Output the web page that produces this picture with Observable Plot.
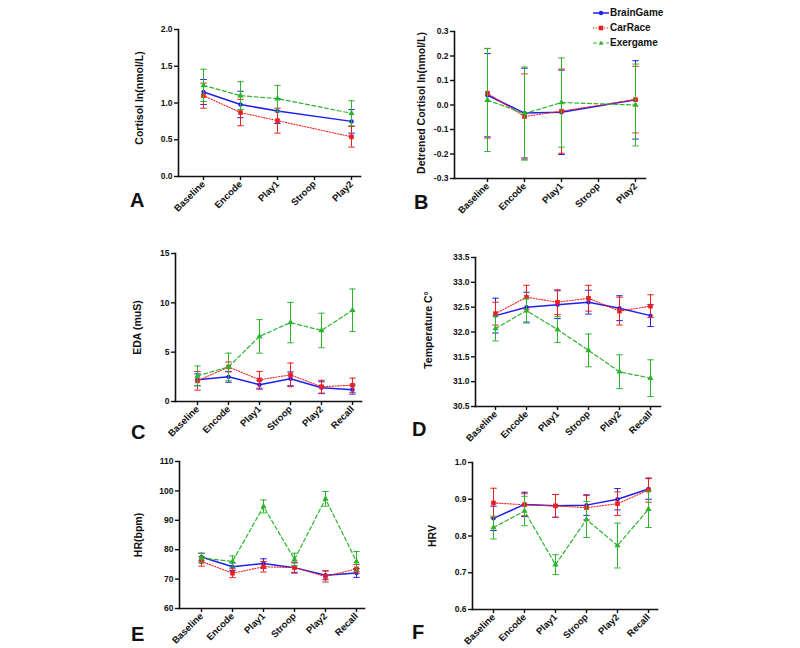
<!DOCTYPE html>
<html><head><meta charset="utf-8">
<script src="https://cdn.jsdelivr.net/npm/d3@7"></script>
<script src="https://cdn.jsdelivr.net/npm/@observablehq/plot@0.6"></script>
<style>
body{margin:0;background:#fff;}
#wrap{position:relative;width:800px;height:648px;overflow:hidden;font-family:'Liberation Sans',Arial,sans-serif;font-weight:bold;color:#111;}
.panel{position:absolute;}
.letter{position:absolute;font-size:20px;font-weight:bold;line-height:1;}
.leg{position:absolute;font-size:10px;font-weight:bold;line-height:1;display:flex;align-items:center;white-space:nowrap;}
</style></head><body><div id="wrap"></div>
<script>
// ---------- categories ----------
const cats5 = ["Baseline", "Encode", "Play1", "Stroop", "Play2"];
const cats6 = ["Baseline", "Encode", "Play1", "Stroop", "Play2", "Recall"];
const groups = ["BrainGame", "CarRace", "Exergame"];

// ---------- A: Cortisol ----------
const cortisolBrain = [1.15, 0.98, 0.89, null, 0.75];
const cortisolBrainErr = [0.17, 0.18, 0.17, null, 0.16];
const cortisolCar = [1.10, 0.87, 0.76, null, 0.54];
const cortisolCarErr = [0.17, 0.18, 0.17, null, 0.14];
const cortisolExer = [1.24, 1.10, 1.06, null, 0.86];
const cortisolExerErr = [0.22, 0.19, 0.18, null, 0.17];

// ---------- B: Detrended cortisol ----------
const detrBrain = [0.040, -0.033, -0.030, null, 0.021];
const detrBrainErr = [0.170, 0.183, 0.172, null, 0.160];
const detrCar = [0.048, -0.047, -0.025, null, 0.022];
const detrCarErr = [0.183, 0.174, 0.172, null, 0.136];
const detrExer = [0.020, -0.035, 0.010, null, 0.000];
const detrExerErr = [0.210, 0.190, 0.182, null, 0.167];

// ---------- C: EDA ----------
const edaBrain = [2.2, 2.5, 1.7, 2.3, 1.4, 1.2];
const edaBrainErr = [0.6, 0.55, 0.45, 0.7, 0.6, 0.45];
const edaCar = [2.1, 3.5, 2.2, 2.7, 1.5, 1.65];
const edaCarErr = [0.95, 0.5, 0.85, 1.2, 0.65, 0.72];
const edaExer = [2.6, 3.5, 6.6, 8.0, 7.2, 9.25];
const edaExerErr = [1.0, 1.4, 1.7, 2.05, 1.75, 2.15];

// ---------- D: Temperature ----------
const tempBrain = [32.33, 32.50, 32.55, 32.60, 32.48, 32.33];
const tempBrainErr = [0.35, 0.30, 0.28, 0.24, 0.25, 0.22];
const tempCar = [32.37, 32.70, 32.60, 32.68, 32.42, 32.52];
const tempCarErr = [0.23, 0.24, 0.25, 0.26, 0.28, 0.23];
const tempExer = [32.07, 32.43, 32.05, 31.63, 31.20, 31.07];
const tempExerErr = [0.25, 0.25, 0.26, 0.33, 0.34, 0.37];

// ---------- E: HR ----------
const hrBrain = [77.5, 74.2, 75.3, 73.9, 71.3, 72.1];
const hrBrainErr = [1.3, 1.3, 1.6, 1.6, 1.5, 1.5];
const hrCar = [76.0, 72.0, 74.2, 73.9, 70.9, 73.5];
const hrCarErr = [1.6, 1.5, 1.8, 1.9, 1.9, 1.5];
const hrExer = [77.2, 76.0, 94.7, 76.7, 97.3, 76.0];
const hrExerErr = [1.6, 1.9, 2.2, 2.1, 2.5, 3.4];

// ---------- F: HRV ----------
const hrvBrain = [0.848, 0.886, 0.882, 0.884, 0.900, 0.928];
const hrvBrainErr = [0.033, 0.033, 0.031, 0.028, 0.029, 0.028];
const hrvCar = [0.890, 0.885, 0.882, 0.877, 0.888, 0.925];
const hrvCarErr = [0.040, 0.030, 0.031, 0.033, 0.032, 0.033];
const hrvExer = [0.823, 0.868, 0.722, 0.845, 0.774, 0.873];
const hrvExerErr = [0.031, 0.040, 0.027, 0.049, 0.061, 0.050];

// ---------- styling ----------
const groupStyle = {
  BrainGame: {color: "#1f1ff0", dash: null, width: 1.5, symbol: "circle", r: 2.2},
  CarRace: {color: "#ee1e1e", dash: "1.2,1.6", width: 1.1, symbol: "square", r: 2.6},
  Exergame: {color: "#2db42d", dash: "4,2.5", width: 1.2, symbol: "triangle", r: 2.3}
};
const capSymbol = {draw(ctx, size) { const w = Math.sqrt(size); ctx.moveTo(-w, 0); ctx.lineTo(w, 0); }};
const fmt1 = d => d.toFixed(1);
const fmt0 = d => d.toFixed(0);

const panels = [
  {letter: "A", cats: cats5, label: "Cortisol ln(nmol/L)", domain: [0, 2], ticks: [0, 0.5, 1, 1.5, 2], fmt: fmt1,
   series: [[cortisolBrain, cortisolBrainErr], [cortisolCar, cortisolCarErr], [cortisolExer, cortisolExerErr]],
   x0: 178, x1: 360, y0: 29, y1: 176, p0: 202, p1: 351, labelX: 139, labelDy: -5, lx: 130, ly: 190},
  {letter: "B", cats: cats5, label: "Detrened Cortisol ln(nmol/L)", domain: [-0.3, 0.3], ticks: [-0.3, -0.2, -0.1, 0, 0.1, 0.2, 0.3], fmt: fmt1,
   series: [[detrBrain, detrBrainErr], [detrCar, detrCarErr], [detrExer, detrExerErr]],
   x0: 454, x1: 645, y0: 31, y1: 178, p0: 486, p1: 636, labelX: 421, labelDy: -2, lx: 414, ly: 192},
  {letter: "C", cats: cats6, label: "EDA (muS)", domain: [0, 15], ticks: [0, 5, 10, 15], fmt: fmt0,
   series: [[edaBrain, edaBrainErr], [edaCar, edaCarErr], [edaExer, edaExerErr]],
   x0: 175, x1: 361, y0: 253, y1: 401, p0: 196, p1: 352, labelX: 137, labelDy: 0, lx: 131, ly: 422},
  {letter: "D", cats: cats6, label: "Temperature C°", domain: [30.5, 33.5], ticks: [30.5, 31, 31.5, 32, 32.5, 33, 33.5], fmt: fmt1,
   series: [[tempBrain, tempBrainErr], [tempCar, tempCarErr], [tempExer, tempExerErr]],
   x0: 475, x1: 660, y0: 257, y1: 406, p0: 495, p1: 650, labelX: 428, labelDy: -2, lx: 412, ly: 419},
  {letter: "E", cats: cats6, label: "HR(bpm)", domain: [60, 110], ticks: [60, 70, 80, 90, 100, 110], fmt: fmt0,
   series: [[hrBrain, hrBrainErr], [hrCar, hrCarErr], [hrExer, hrExerErr]],
   x0: 179, x1: 364, y0: 461, y1: 608, p0: 200, p1: 356, labelX: 138, labelDy: 0, lx: 131, ly: 624},
  {letter: "F", cats: cats6, label: "HRV", domain: [0.6, 1.0], ticks: [0.6, 0.7, 0.8, 0.9, 1.0], fmt: fmt1,
   series: [[hrvBrain, hrvBrainErr], [hrvCar, hrvCarErr], [hrvExer, hrvExerErr]],
   x0: 472, x1: 657, y0: 462, y1: 609, p0: 492, p1: 648, labelX: 432, labelDy: 0, lx: 412, ly: 622}
];

const wrap = document.getElementById("wrap");

function makePanel(cfg) {
  const left = cfg.x0 - 82, top = cfg.y0 - 16;
  const width = cfg.x1 - left + 12, height = cfg.y1 - top + 55;
  const rows = [];
  cfg.series.forEach(([mean, err], gi) => mean.forEach((m, i) => {
    if (m != null) rows.push({group: groups[gi], cat: cfg.cats[i], mean: m, lo: m - err[i], hi: m + err[i]});
  }));
  const marks = [];
  for (const g of groups) {
    const st = groupStyle[g];
    const data = rows.filter(d => d.group === g);
    marks.push(
      Plot.ruleX(data, {x: "cat", y1: "lo", y2: "hi", stroke: st.color, strokeWidth: 1}),
      Plot.dot(data, {x: "cat", y: "hi", symbol: capSymbol, r: 1.8, stroke: st.color, fill: "none", strokeWidth: 1}),
      Plot.dot(data, {x: "cat", y: "lo", symbol: capSymbol, r: 1.8, stroke: st.color, fill: "none", strokeWidth: 1}),
      Plot.line(data, {x: "cat", y: "mean", stroke: st.color, strokeWidth: st.width, strokeDasharray: st.dash}),
      Plot.dot(data, {x: "cat", y: "mean", symbol: st.symbol, r: st.r, fill: st.color, stroke: "none"})
    );
  }
  marks.push(
    Plot.frame({anchor: "left", stroke: "#111", strokeWidth: 1.6}),
    Plot.frame({anchor: "bottom", stroke: "#111", strokeWidth: 1.6}),
    Plot.axisY({ticks: cfg.ticks, tickFormat: cfg.fmt, tickSize: 4, tickPadding: 2, label: null, stroke: "#111", strokeWidth: 1.4, fontSize: 8.5}),
    Plot.axisX({tickRotate: -45, tickSize: 4, tickPadding: 2, label: null, stroke: "#111", strokeWidth: 1.4, fontSize: 9.5}),
    Plot.text([cfg.label], {frameAnchor: "left", rotate: -90, dx: cfg.labelX - cfg.x0, dy: cfg.labelDy, fontSize: 10.5, fontWeight: "bold", textAnchor: "middle", fill: "#111"})
  );
  const svg = Plot.plot({
    width, height,
    marginLeft: cfg.x0 - left,
    marginRight: width - (cfg.x1 - left),
    marginTop: cfg.y0 - top,
    marginBottom: height - (cfg.y1 - top),
    x: {type: "point", domain: cfg.cats, padding: 0, range: [cfg.p0 - left, cfg.p1 - left]},
    y: {domain: cfg.domain},
    style: {fontFamily: "'Liberation Sans', Arial, sans-serif", fontWeight: "bold", fontSize: "8.5px", color: "#111", background: "transparent", overflow: "visible"},
    marks
  });
  const div = document.createElement("div");
  div.className = "panel";
  div.style.left = left + "px";
  div.style.top = top + "px";
  div.appendChild(svg);
  wrap.appendChild(div);

  const L = document.createElement("div");
  L.className = "letter";
  L.style.left = cfg.lx + "px";
  L.style.top = cfg.ly + "px";
  L.textContent = cfg.letter;
  wrap.appendChild(L);
}
panels.forEach(makePanel);

// ---------- legend ----------
const legendY = [14, 29, 44];
const symPath = {
  circle: r => `<circle cx="8" cy="5" r="${r}" />`,
  square: r => `<rect x="${8 - r}" y="${5 - r}" width="${2 * r}" height="${2 * r}" />`,
  triangle: r => `<path d="M8,${5 - r * 1.1} L${8 + r},${5 + r * 0.8} L${8 - r},${5 + r * 0.8} Z" />`
};
groups.forEach((g, i) => {
  const st = groupStyle[g];
  const d = document.createElement("div");
  d.className = "leg";
  d.style.left = "593px";
  d.style.top = (legendY[i] - 6) + "px";
  d.innerHTML = `<svg width="16" height="10" style="margin-right:1px"><line x1="0" x2="16" y1="5" y2="5" stroke="${st.color}" stroke-width="${st.width}" ${st.dash ? `stroke-dasharray="${st.dash}"` : ""}/><g fill="${st.color}">${symPath[st.symbol](st.symbol === "circle" ? 2.2 : 2.3)}</g></svg><span>${g}</span>`;
  wrap.appendChild(d);
});
</script></body></html>
